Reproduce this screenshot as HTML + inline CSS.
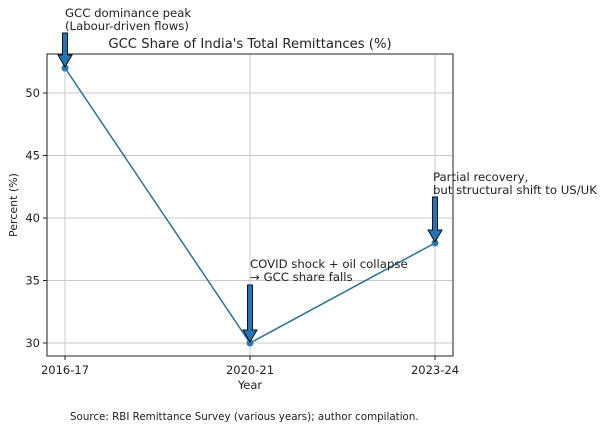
<!DOCTYPE html>
<html><head><meta charset="utf-8"><style>
body{margin:0;background:#fff}
svg text{font-family:"DejaVu Sans","Liberation Sans",sans-serif;fill:#222}
</style></head><body>
<svg width="601" height="430" viewBox="0 0 601 430" xmlns="http://www.w3.org/2000/svg">
<g stroke="#c8c8c8" stroke-width="1">
<line x1="65" y1="54" x2="65" y2="356"/><line x1="250" y1="54" x2="250" y2="356"/><line x1="435" y1="54" x2="435" y2="356"/>
<line x1="47" y1="93" x2="453" y2="93"/><line x1="47" y1="155.5" x2="453" y2="155.5"/><line x1="47" y1="218" x2="453" y2="218"/><line x1="47" y1="280.5" x2="453" y2="280.5"/><line x1="47" y1="343" x2="453" y2="343"/>
</g>
<rect x="47" y="54" width="406" height="302" fill="none" stroke="#222" stroke-width="1"/>
<g stroke="#222"><line x1="43" y1="93" x2="47" y2="93"/><line x1="43" y1="155.5" x2="47" y2="155.5"/><line x1="43" y1="218" x2="47" y2="218"/><line x1="43" y1="280.5" x2="47" y2="280.5"/><line x1="43" y1="343" x2="47" y2="343"/>
<line x1="65" y1="356" x2="65" y2="360"/><line x1="250" y1="356" x2="250" y2="360"/><line x1="435" y1="356" x2="435" y2="360"/></g>
<g font-size="11.5" text-anchor="end"><text x="40" y="97">50</text><text x="40" y="159.5">45</text><text x="40" y="222">40</text><text x="40" y="284.5">35</text><text x="40" y="347">30</text></g>
<g font-size="11.5" text-anchor="middle"><text x="65" y="374">2016-17</text><text x="250" y="374">2020-21</text><text x="435" y="374">2023-24</text>
<text x="250" y="389">Year</text></g>
<text x="17" y="205" font-size="11" text-anchor="middle" transform="rotate(-90 17 205)">Percent (%)</text>
<text x="250" y="48" font-size="13.2" text-anchor="middle">GCC Share of India's Total Remittances (%)</text>
<polyline points="65,68 250,343 435,243" fill="none" stroke="#2a7198" stroke-width="1.5"/>
<g fill="#2a7ab5"><circle cx="65" cy="68" r="3.5"/><circle cx="250" cy="343" r="3.5"/><circle cx="435" cy="243" r="3.5"/></g>
<g fill="#2276b8" stroke="#111" stroke-width="1">
<polygon points="62.5,33 67.5,33 67.5,55 72,55 65,67 58,55 62.5,55"/>
<polygon points="247.5,285 252.5,285 252.5,330 257,330 250,342 243,330 247.5,330"/>
<polygon points="432.5,197 437.5,197 437.5,230 442,230 435,242 428,230 432.5,230"/>
</g>
<g font-size="11.7">
<text x="65" y="17">GCC dominance peak</text><text x="65" y="30">(Labour-driven flows)</text>
<text x="250" y="268">COVID shock + oil collapse</text><text x="250" y="281">→ GCC share falls</text>
<text x="433" y="181">Partial recovery,</text><text x="433" y="194">but structural shift to US/UK</text>
</g>
<text x="70" y="420" font-size="10.3">Source: RBI Remittance Survey (various years); author compilation.</text>
</svg>
</body></html>
